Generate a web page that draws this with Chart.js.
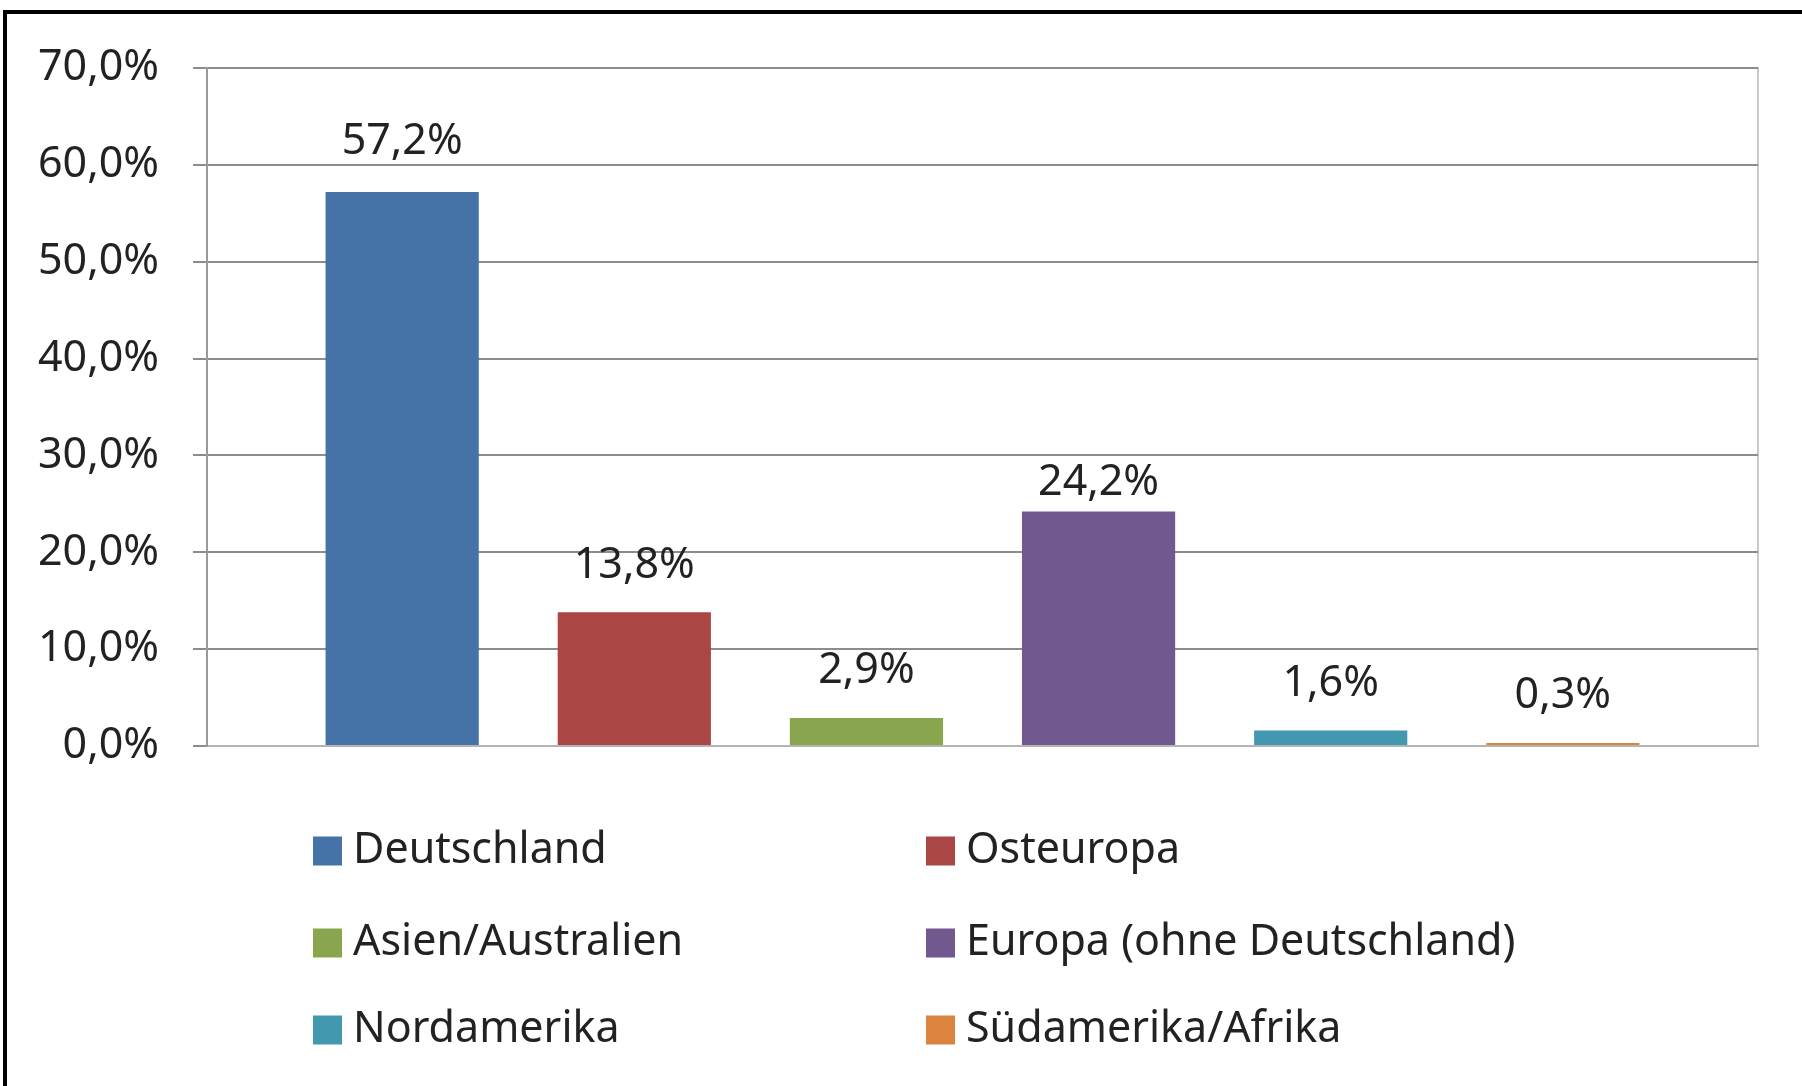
<!DOCTYPE html>
<html>
<head>
<meta charset="utf-8">
<script src="https://cdn.jsdelivr.net/npm/chart.js@4.4.1/dist/chart.umd.min.js"></script>
<style>
  html, body { margin: 0; padding: 0; background: #fff; overflow: hidden; }
  #wrap { position: relative; width: 1802px; height: 1086px; }
  #frame { position: absolute; left: 3px; top: 10px; width: 1900px; height: 1200px; border: 4px solid #000; pointer-events: none; }
</style>
</head>
<body>
<div id="wrap">
  <canvas id="chart"></canvas>
  <div id="frame"></div>
</div>
<script>
// Herkunft der Teilnehmer (Anteile in %)
const regions = ['Deutschland', 'Osteuropa', 'Asien/Australien', 'Europa (ohne Deutschland)', 'Nordamerika', 'Südamerika/Afrika'];
const shares = [57.2, 13.8, 2.9, 24.2, 1.6, 0.3];
const regionColors = ['#4572A7', '#AA4643', '#89A54E', '#71588F', '#4198AF', '#DB843D'];
const yTicks = [0, 10, 20, 30, 40, 50, 60, 70];

const FONT = '"Noto Sans", sans-serif';
const TEXT = '#222222';

function pct(v) {
  return v.toFixed(1).replace('.', ',') + '%';
}

// light grey frame round the plot area
const plotFrame = {
  id: 'plotFrame',
  beforeDraw(chart) {
    const { ctx, chartArea: a } = chart;
    ctx.save();
    ctx.strokeStyle = '#c8c8c8';
    ctx.lineWidth = 2;
    ctx.strokeRect(a.left, a.top, a.right - a.left, a.bottom - a.top);
    ctx.restore();
  }
};

// values above the bars (the 24,2% label sits a bit lower in the original)
const valueLabels = {
  id: 'valueLabels',
  afterDatasetsDraw(chart, args, opts) {
    const ctx = chart.ctx;
    ctx.save();
    ctx.font = '43px ' + FONT;
    ctx.fillStyle = TEXT;
    ctx.textAlign = 'center';
    ctx.textBaseline = 'middle';
    chart.data.datasets.forEach((ds, i) => {
      const bar = chart.getDatasetMeta(i).data[0];
      ctx.fillText(pct(ds.data[0]), bar.x, bar.y - opts.lift[i]);
    });
    ctx.restore();
  }
};

// two-column legend under the chart
const gridLegend = {
  id: 'gridLegend',
  afterDraw(chart, args, opts) {
    const ctx = chart.ctx;
    ctx.save();
    ctx.font = '43px ' + FONT;
    ctx.textAlign = 'left';
    ctx.textBaseline = 'middle';
    chart.data.datasets.forEach((ds, i) => {
      const x = opts.cols[i % 2];
      const y = opts.rows[Math.floor(i / 2)];
      ctx.fillStyle = ds.backgroundColor;
      ctx.fillRect(x, y - opts.box / 2, opts.box, opts.box);
      ctx.fillStyle = TEXT;
      ctx.fillText(ds.label, x + opts.box + 11, y);
    });
    ctx.restore();
  }
};

const datasets = regions.map((name, i) => ({
  label: name,
  data: [shares[i]],
  backgroundColor: regionColors[i],
  borderWidth: 0,
  categoryPercentage: 0.898,
  barPercentage: 0.66,
}));

new Chart(document.getElementById('chart'), {
  type: 'bar',
  data: { labels: [''], datasets: datasets },
  options: {
    responsive: true,
    maintainAspectRatio: false,
    animation: false,
    layout: { padding: { left: 0, top: 68, right: 44, bottom: 340 } },
    plugins: {
      legend: { display: false },
      tooltip: { enabled: false },
      valueLabels: { lift: [50, 47, 47, 29, 47, 47] },
      gridLegend: { cols: [313, 926], rows: [851, 943, 1030], box: 29 },
    },
    scales: {
      x: {
        ticks: { display: false },
        grid: { display: false, drawTicks: false },
        border: { color: '#b4b4b4', width: 2 },
        afterFit(scale) { scale.height = 0; },
      },
      y: {
        min: 0,
        max: 70,
        afterBuildTicks(scale) { scale.ticks = yTicks.map(v => ({ value: v })); },
        afterFit(scale) { scale.width = 207; },
        ticks: {
          padding: 34,
          color: TEXT,
          font: { family: FONT, size: 43 },
          callback: v => pct(v),
        },
        grid: { color: '#8c8c8c', lineWidth: 2, tickLength: 14, tickColor: '#8c8c8c' },
        border: { color: '#9a9a9a', width: 2 },
      },
    },
  },
  plugins: [plotFrame, valueLabels, gridLegend],
});
</script>
</body>
</html>
